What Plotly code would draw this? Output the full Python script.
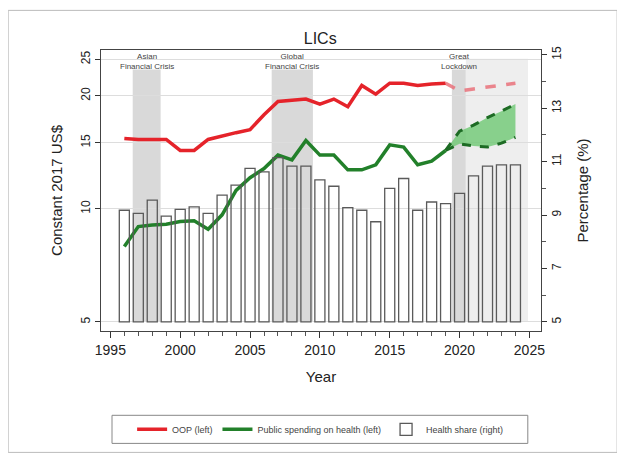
import plotly.graph_objects as go

# actual years and series (left axis, log scale, constant 2017 US$)
years = list(range(1996, 2020))
oop = [15.4, 15.3, 15.3, 15.3, 14.3, 14.3, 15.3, 15.65, 15.95, 16.25, 17.8, 19.3,
       19.5, 19.6, 19.0, 19.6, 18.7, 21.3, 20.2, 21.6, 21.6, 21.3, 21.5, 21.6]
public = [7.94, 8.97, 9.06, 9.1, 9.25, 9.3, 8.83, 9.64, 11.2, 12.1, 12.8, 13.9,
          13.5, 15.2, 13.9, 13.9, 12.7, 12.7, 13.1, 14.8, 14.6, 13.1, 13.4, 14.3]

# projections
proj_years = [2019, 2020, 2021, 2022, 2023, 2024]
oop_proj = [21.6, 20.6, 20.85, 21.1, 21.3, 21.6]
pub_proj_hi = [14.3, 16.1, 16.7, 17.5, 18.2, 19.0]
pub_proj_lo = [14.3, 14.9, 14.7, 14.6, 14.96, 15.5]

# health share (right axis, %)
share_years = list(range(1996, 2025))
share = [9.18, 9.06, 9.56, 8.96, 9.21, 9.31, 9.06, 9.75, 10.12, 10.75, 10.62, 11.15,
         10.83, 10.83, 10.32, 10.08, 9.28, 9.18, 8.75, 10.0, 10.37, 9.18, 9.49, 9.43,
         9.81, 10.47, 10.83, 10.88, 10.88]

crises = [(1996.6, 1998.6, "Asian<br>Financial Crisis"),
          (2006.55, 2009.5, "Global<br>Financial Crisis"),
          (2019.45, 2020.45, "Great<br>Lockdown")]
proj_span = (2020.45, 2024.9)

FONT = "Liberation Sans, Arial, sans-serif"
RED = "#e5232a"
GREEN = "#22802a"

fig = go.Figure()

fig.add_trace(go.Bar(
    x=share_years, y=[s - 5 for s in share], base=5, yaxis="y2", width=0.72,
    marker=dict(color="rgba(0,0,0,0)", line=dict(color="#5a5a5a", width=1.3)),
    name="Health share (right)", legendrank=3))

fig.add_trace(go.Scatter(x=proj_years, y=pub_proj_hi, mode="lines", showlegend=False,
                         line=dict(color="#1d6b24", width=3, dash="dash")))
fig.add_trace(go.Scatter(x=proj_years, y=pub_proj_lo, mode="lines", showlegend=False,
                         fill="tonexty", fillcolor="rgba(110,200,115,0.8)",
                         line=dict(color="#1d6b24", width=3, dash="dash")))
fig.add_trace(go.Scatter(x=proj_years, y=oop_proj, mode="lines", showlegend=False,
                         line=dict(color="rgba(232,105,115,0.8)", width=3.5, dash="dash")))

fig.add_trace(go.Scatter(x=years, y=oop, mode="lines", name="OOP (left)",
                         line=dict(color=RED, width=3.5), legendrank=1))
fig.add_trace(go.Scatter(x=years, y=public, mode="lines", name="Public spending on health (left)",
                         line=dict(color=GREEN, width=3.5), legendrank=2))

shapes = []
annotations = []
for x0, x1, label in crises:
    shapes.append(dict(type="rect", xref="x", yref="y2", x0=x0, x1=x1, y0=5, y1=14.45,
                       fillcolor="#d9d9d9", line=dict(width=0), layer="below"))
    annotations.append(dict(x=(x0 + x1) / 2, y=1.0, xref="x", yref="paper", text=label,
                            showarrow=False, font=dict(family=FONT, size=8, color="#444444")))
shapes.append(dict(type="rect", xref="x", yref="y2", x0=proj_span[0], x1=proj_span[1], y0=5, y1=14.85,
                   fillcolor="#eeeeee", line=dict(width=0), layer="below"))
annotations.append(dict(x=2022.1, y=20, xref="x", yref="y", text="- Projections -", showarrow=False,
                        font=dict(family=FONT, size=8, color="#444444")))
# legend frame
shapes.append(dict(type="rect", xref="paper", yref="paper", x0=0.025, x1=0.970, y0=-0.400, y1=-0.300,
                   line=dict(color="#888888", width=1)))
# outer graph border
shapes.append(dict(type="rect", xref="paper", yref="paper", x0=-0.211, x1=1.173, y0=-0.432, y1=1.141,
                   line=dict(color="#bbbbbb", width=1)))

fig.update_layout(
    width=617, height=450,
    margin=dict(l=93, r=84, t=42, b=127),
    paper_bgcolor="white", plot_bgcolor="white",
    font=dict(family=FONT, color="#222222"),
    title=dict(text="LICs", x=0.506, xanchor="center", y=0.933, yanchor="middle",
               font=dict(size=16, color="#222222")),
    shapes=shapes, annotations=annotations,
    xaxis=dict(range=[1994.33, 2025.83], tickvals=[1995, 2000, 2005, 2010, 2015, 2020, 2025],
               ticks="outside", ticklen=6, tickcolor="#333333", showline=True, linecolor="#444444",
               mirror=True, showgrid=False, zeroline=False, tickfont=dict(size=14),
               minor=dict(dtick=1, tick0=1995, ticks="outside", ticklen=4, tickcolor="#555555"),
               title=dict(text="Year", font=dict(size=15), standoff=14)),
    yaxis=dict(type="log", range=[0.6749, 1.4228], tickvals=[5, 10, 15, 20, 25],
               ticks="outside", ticklen=5, tickcolor="#333333", tickangle=-90,
               showline=True, linecolor="#444444", showgrid=True, gridcolor="#dddddd",
               zeroline=False, tickfont=dict(size=12),
               title=dict(text="Constant 2017 US$", font=dict(size=15), standoff=12)),
    yaxis2=dict(overlaying="y", side="right", range=[4.66, 15.18], tickvals=[5, 7, 9, 11, 13, 15],
                ticks="outside", ticklen=5, tickcolor="#333333", tickangle=-90,
                showline=True, linecolor="#444444", showgrid=False, zeroline=False,
                tickfont=dict(size=12),
                minor=dict(tickvals=[6, 8, 10, 12, 14], ticks="outside", ticklen=4, tickcolor="#555555"),
                title=dict(text="Percentage (%)", font=dict(size=15), standoff=14)),
    legend=dict(orientation="h", x=0.498, xanchor="center", y=-0.35, yanchor="middle",
                borderwidth=0, font=dict(size=9, color="#444444"), itemwidth=30,
                traceorder="normal", bgcolor="rgba(0,0,0,0)"),
)

fig.write_html("out.html")
